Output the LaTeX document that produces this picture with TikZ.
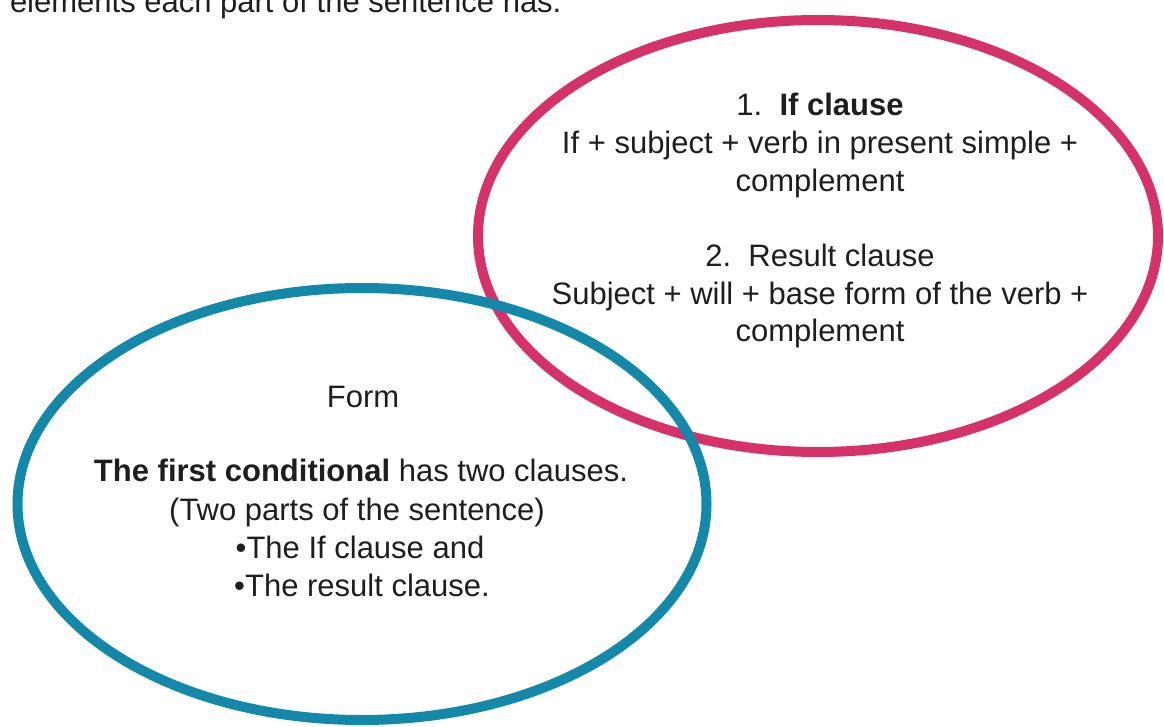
\documentclass[tikz,border=0pt]{standalone}
\usepackage{fontspec}
\setmainfont{Liberation Sans}
\usetikzlibrary{shapes.geometric}
\definecolor{ringred}{RGB}{212,50,104}
\definecolor{ringblue}{RGB}{20,136,168}
\definecolor{inktext}{RGB}{30,30,30}
\begin{document}
\begin{tikzpicture}[x=1pt,y=-1pt,
  txt/.style={font=\fontsize{31}{38}\selectfont, inner sep=0pt, outer sep=0pt, anchor=base, text=inktext},
  ring/.style={ellipse, line width=10pt, inner sep=0pt, outer sep=0pt}]
\useasboundingbox (0,0) rectangle (1164,727);
\clip (0,0) rectangle (1164,727);
% header line (cut off at the top)
\node[txt, anchor=base west] (header) at (10,13) {elements each part of the sentence has.};
% rings
\node[ring, draw=ringred, minimum width=680pt, minimum height=432pt] (redring) at (818,236) {};
\node[ring, draw=ringblue, minimum width=689pt, minimum height=432pt] (bluering) at (362,504) {};
% red ring text
\node[txt] (r1) at (820,116) {1.\ \ \textbf{If clause}};
\node[txt] (r2) at (820,154) {If + subject + verb in present simple +};
\node[txt] (r3) at (820,192) {complement};
\node[txt] (r4) at (820,266) {2.\ \ Result clause};
\node[txt] (r5) at (820,304) {Subject + will + base form of the verb +};
\node[txt] (r6) at (820,341) {complement};
% blue ring text
\node[txt] (b1) at (363,407) {Form};
\node[txt] (b2) at (361,481) {\textbf{The first conditional} has two clauses.};
\node[txt] (b3) at (357,520) {(Two parts of the sentence)};
\node[txt] (b4) at (360,558) {•The If clause and};
\node[txt] (b5) at (362,596) {•The result clause.};
\end{tikzpicture}
\end{document}
